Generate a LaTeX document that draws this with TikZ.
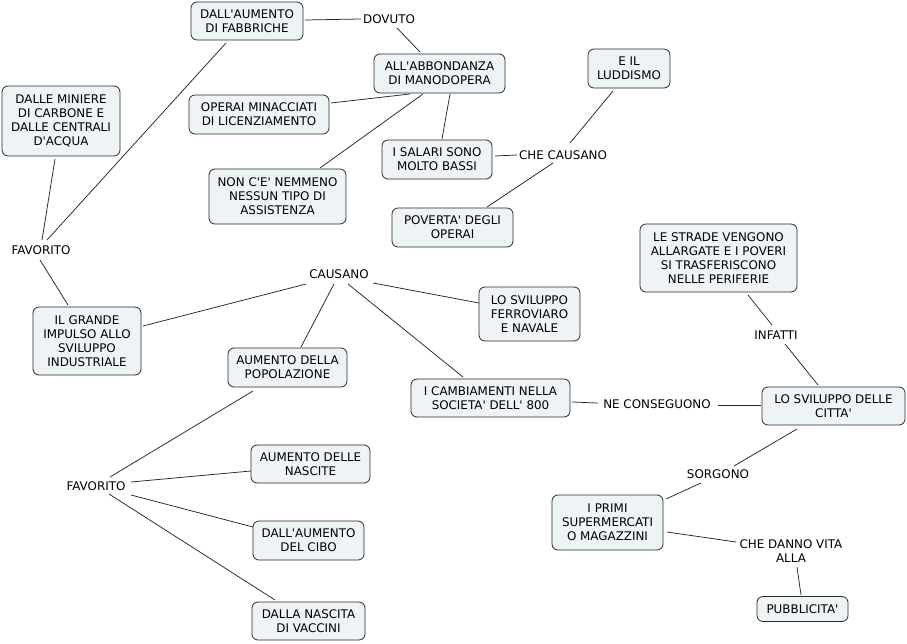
\documentclass[tikz,border=0pt]{standalone}
\usepackage{fontspec}
\setmainfont{DejaVu Sans}[Ligatures=TeXOff]
\definecolor{boxfill}{HTML}{EEF3F6}
\definecolor{boxline}{HTML}{2A2A2A}
\begin{document}
\begin{tikzpicture}[x=1pt,y=-1pt,
  every node/.style={font=\fontsize{11.9}{14}\selectfont, text=black},
  cbox/.style={draw=boxline, fill=boxfill, rounded corners=6pt, align=center, inner sep=0pt, line width=0.8pt},
  lab/.style={align=center, inner sep=1pt},
  conn/.style={draw=black!85, line width=0.75pt}]
\useasboundingbox[fill=white] (0,0) rectangle (907,644);
% concepts
\node[cbox, minimum width=112pt, minimum height=38pt] (fab) at (247,21) {DALL'AUMENTO\\DI FABBRICHE};
\node[cbox, minimum width=131pt, minimum height=39pt] (abb) at (439.5,73.5) {ALL'ABBONDANZA\\DI MANODOPERA};
\node[cbox, minimum width=82pt, minimum height=39pt] (lud) at (629,68.5) {E IL\\LUDDISMO};
\node[cbox, minimum width=118pt, minimum height=70pt] (min) at (61,121) {DALLE MINIERE\\DI CARBONE E\\DALLE CENTRALI\\D'ACQUA};
\node[cbox, minimum width=140pt, minimum height=39pt] (ope) at (259,114.5) {OPERAI MINACCIATI\\DI LICENZIAMENTO};
\node[cbox, minimum width=110pt, minimum height=39pt] (sal) at (437,159.5) {I SALARI SONO\\MOLTO BASSI};
\node[cbox, minimum width=137pt, minimum height=55pt] (non) at (277.5,196.5) {NON C'E' NEMMENO\\NESSUN TIPO DI\\ASSISTENZA};
\node[cbox, minimum width=121pt, minimum height=39pt] (pov) at (452.5,227.5) {POVERTA' DEGLI\\OPERAI};
\node[cbox, minimum width=157pt, minimum height=68pt] (str) at (718.5,258) {LE STRADE VENGONO\\ALLARGATE E I POVERI\\SI TRASFERISCONO\\NELLE PERIFERIE};
\node[cbox, minimum width=108pt, minimum height=68pt] (gra) at (87,341) {IL GRANDE\\IMPULSO ALLO\\SVILUPPO\\INDUSTRIALE};
\node[cbox, minimum width=101pt, minimum height=54pt] (fer) at (529.5,314) {LO SVILUPPO\\FERROVIARO\\E NAVALE};
\node[cbox, minimum width=119pt, minimum height=39pt] (pop) at (287.5,367.5) {AUMENTO DELLA\\POPOLAZIONE};
\node[cbox, minimum width=159pt, minimum height=38pt] (cam) at (490.5,398) {I CAMBIAMENTI NELLA\\SOCIETA' DELL' 800};
\node[cbox, minimum width=143pt, minimum height=38pt] (cit) at (833.5,406) {LO SVILUPPO DELLE\\CITTA'};
\node[cbox, minimum width=111pt, minimum height=55pt] (sup) at (607.5,522.5) {I PRIMI\\SUPERMERCATI\\O MAGAZZINI};
\node[cbox, minimum width=119pt, minimum height=38pt] (nas) at (310.5,464) {AUMENTO DELLE\\NASCITE};
\node[cbox, minimum width=111pt, minimum height=39pt] (cib) at (308.5,540.5) {DALL'AUMENTO\\DEL CIBO};
\node[cbox, minimum width=113pt, minimum height=38pt] (vac) at (308.5,621) {DALLA NASCITA\\DI VACCINI};
\node[cbox, minimum width=91pt, minimum height=25pt] (pub) at (802.5,609) {PUBBLICITA'};
% linking phrases
\node[lab] (dov) at (389,19) {DOVUTO};
\node[lab] (chc) at (563,155) {CHE CAUSANO};
\node[lab] (fava) at (41,250) {FAVORITO};
\node[lab] (cau) at (339,274) {CAUSANO};
\node[lab] (inf) at (776,335) {INFATTI};
\node[lab] (nec) at (657,404) {NE CONSEGUONO};
\node[lab] (sor) at (718,474) {SORGONO};
\node[lab] (chd) at (791,551) {CHE DANNO VITA\\ALLA};
\node[lab] (favb) at (96,486) {FAVORITO};
% connectors
\draw[conn] ([shift={(58,-1)}]fab.center) -- ([shift={(-28,0)}]dov.center);
\draw[conn] ([shift={(8,9)}]dov.center) -- ([shift={(-19.5,-21.5)}]abb.center);
\draw[conn] ([shift={(-29.5,20.5)}]abb.center) -- ([shift={(72,-11.5)}]ope.center);
\draw[conn] ([shift={(-16.5,20.5)}]abb.center) -- ([shift={(42.5,-28.5)}]non.center);
\draw[conn] ([shift={(10.5,20.5)}]abb.center) -- ([shift={(5,-20.5)}]sal.center);
\draw[conn] ([shift={(58,-3.5)}]sal.center) -- ([shift={(-46,0)}]chc.center);
\draw[conn] ([shift={(7,-12)}]chc.center) -- ([shift={(-16,22.5)}]lud.center);
\draw[conn] ([shift={(-10,8)}]chc.center) -- ([shift={(34.5,-20.5)}]pov.center);
\draw[conn] ([shift={(-6,38)}]min.center) -- ([shift={(1,-10)}]fava.center);
\draw[conn] ([shift={(-21,22)}]fab.center) -- ([shift={(6,-10)}]fava.center);
\draw[conn] ([shift={(-1,10)}]fava.center) -- ([shift={(-19,-36)}]gra.center);
\draw[conn] ([shift={(56,-15)}]gra.center) -- ([shift={(-33,10)}]cau.center);
\draw[conn] ([shift={(-5,10)}]cau.center) -- ([shift={(13.5,-20.5)}]pop.center);
\draw[conn] ([shift={(9,10)}]cau.center) -- ([shift={(-27.5,-21)}]cam.center);
\draw[conn] ([shift={(34,9)}]cau.center) -- ([shift={(-50.5,-11)}]fer.center);
\draw[conn] ([shift={(81.5,4)}]cam.center) -- ([shift={(-59,-1)}]nec.center);
\draw[conn] ([shift={(61,1)}]nec.center) -- ([shift={(-72.5,-1)}]cit.center);
\draw[conn] ([shift={(29.5,37)}]str.center) -- ([shift={(-4,-10)}]inf.center);
\draw[conn] ([shift={(9,9)}]inf.center) -- ([shift={(-15.5,-21)}]cit.center);
\draw[conn] ([shift={(-36.5,23)}]cit.center) -- ([shift={(16,-8)}]sor.center);
\draw[conn] ([shift={(-17,9)}]sor.center) -- ([shift={(58.5,-23.5)}]sup.center);
\draw[conn] ([shift={(59.5,9.5)}]sup.center) -- ([shift={(-55,-9)}]chd.center);
\draw[conn] ([shift={(6,16)}]chd.center) -- ([shift={(-1.5,-14)}]pub.center);
\draw[conn] ([shift={(-34.5,23.5)}]pop.center) -- ([shift={(14,-9)}]favb.center);
\draw[conn] ([shift={(35,-4)}]favb.center) -- ([shift={(-59.5,7)}]nas.center);
\draw[conn] ([shift={(35,9)}]favb.center) -- ([shift={(-55.5,-13.5)}]cib.center);
\draw[conn] ([shift={(13,8)}]favb.center) -- ([shift={(-33.5,-21)}]vac.center);
\end{tikzpicture}
\end{document}
